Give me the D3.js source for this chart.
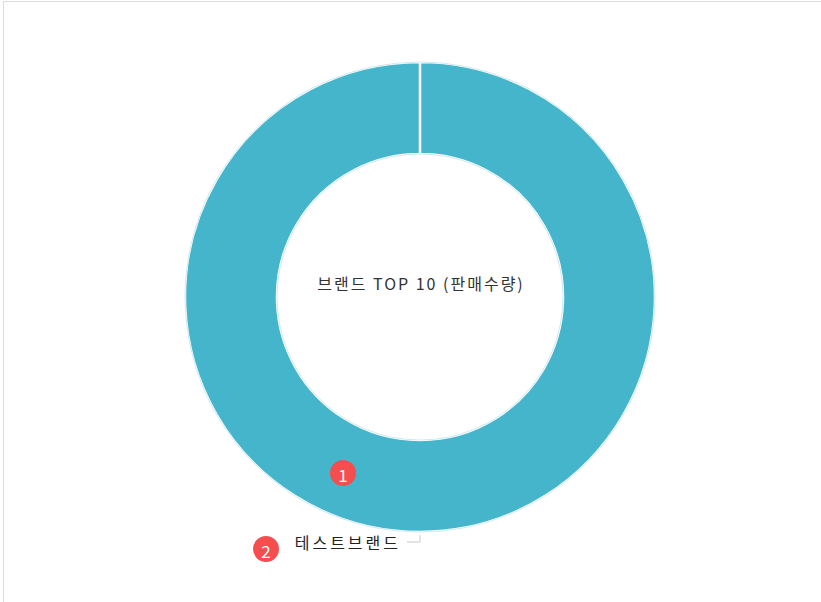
<!DOCTYPE html>
<html>
<head>
<meta charset="utf-8">
<script src="https://cdn.jsdelivr.net/npm/d3@7"></script>
<style>
  html, body { margin: 0; padding: 0; background: #fff; }
  text { font-family: "Noto Sans CJK KR", "Noto Sans", sans-serif; }
</style>
</head>
<body>
<div id="chart"></div>
<script>
// data
const brands = ["테스트브랜드"];
const qty = [100];
const title = "브랜드 TOP 10 (판매수량)";
const markers = ["1", "2"];

const width = 821, height = 602;
const cx = 420, cy = 297;
const outerR = 235, innerR = 143;

const svg = d3.select("#chart").append("svg")
  .attr("width", width)
  .attr("height", height);

// panel border
svg.append("rect")
  .attr("x", 3.5).attr("y", 1.5)
  .attr("width", width + 10).attr("height", height + 10)
  .attr("fill", "#fff")
  .attr("stroke", "#dcdcdc");

const color = d3.scaleOrdinal().domain(brands).range(["#45b5cb"]);

const pie = d3.pie()
  .sort(null)
  .endAngle(2 * Math.PI - 0.0001)
  .value((d, i) => qty[i]);

const arc = d3.arc().innerRadius(innerR).outerRadius(outerR);

const g = svg.append("g").attr("transform", "translate(" + cx + "," + cy + ")");

const slices = pie(brands);

g.selectAll("path.slice")
  .data(slices)
  .enter()
  .append("path")
  .attr("class", "slice")
  .attr("d", arc)
  .attr("fill", d => color(d.data))
  .attr("stroke", "#fff")
  .attr("stroke-width", 2.5)
  .attr("stroke-linejoin", "round");

// soft edge around ring
g.append("circle").attr("r", outerR).attr("fill", "none").attr("stroke", "#cfe9ef").attr("stroke-width", 1);
g.append("circle").attr("r", innerR).attr("fill", "none").attr("stroke", "#cfe9ef").attr("stroke-width", 1);

// center title
g.append("text")
  .attr("x", 1).attr("y", -14)
  .attr("text-anchor", "middle")
  .attr("dominant-baseline", "central")
  .attr("font-size", 16)
  .attr("letter-spacing", 2)
  .attr("fill", "#333")
  .text(title);

// data labels with connector
slices.forEach(function (d) {
  const mid = (d.startAngle + d.endAngle) / 2;
  const px = Math.sin(mid) * (outerR + 5);
  const py = -Math.cos(mid) * (outerR + 5);
  const lx = px - 13, ly = py + 5;
  g.append("path")
    .attr("d", "M" + lx + "," + ly + "H" + px + "V" + (py - 2))
    .attr("fill", "none")
    .attr("stroke", "#c8c8c8")
    .attr("stroke-width", 1);
  g.append("text")
    .attr("x", lx - 6).attr("y", ly)
    .attr("text-anchor", "end")
    .attr("dominant-baseline", "central")
    .attr("font-size", 16)
    .attr("letter-spacing", 3)
    .attr("fill", "#222")
    .text(d.data);
});

// numbered markers
const markerPos = [
  { x: cx - 77, y: cy + 176 },
  { x: cx - 154, y: cy + 252 }
];
markerPos.forEach(function (p, i) {
  svg.append("circle").attr("cx", p.x).attr("cy", p.y).attr("r", 13).attr("fill", "#f44e4e");
  svg.append("text")
    .attr("x", p.x).attr("y", p.y + 1)
    .attr("text-anchor", "middle")
    .attr("dominant-baseline", "central")
    .attr("font-size", 17)
    .attr("fill", "#fff")
    .text(markers[i]);
});
</script>
</body>
</html>
